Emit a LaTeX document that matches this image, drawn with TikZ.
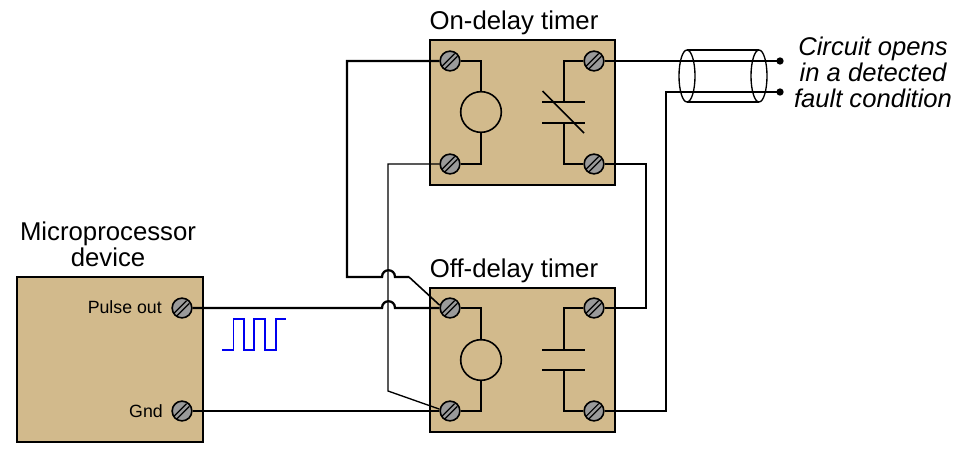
\documentclass[tikz,border=0pt]{standalone}
\usepackage{fontspec}
\setmainfont{Liberation Sans}
\definecolor{boxtan}{HTML}{D2BA8C}
\definecolor{termgray}{HTML}{9A9A9A}
\definecolor{pulseblue}{HTML}{0000F0}
\tikzset{
  x=0.75pt,y=-0.75pt,
  wire/.style={line width=1.7pt,line join=miter},
  thinwire/.style={line width=1pt,line join=miter},
  panel/.style={draw=black,line width=1.8pt,fill=boxtan},
  coil/.style={circle,draw=black,line width=1.2pt,minimum size=30.5pt,inner sep=0pt},
  term/.style={circle,draw=black,line width=1.2pt,fill=termgray,minimum size=14.8pt,inner sep=0pt,
    path picture={
      \draw[black,line width=0.9pt] ([shift={(-6.5pt,-4.5pt)}]path picture bounding box.center) -- ++(10pt,10pt);
      \draw[black,line width=0.9pt] ([shift={(-4.5pt,-6.5pt)}]path picture bounding box.center) -- ++(10pt,10pt);
    }},
  title/.style={font=\fontsize{19.3pt}{19.5pt}\selectfont,align=center,inner sep=0pt},
  ititle/.style={font=\fontsize{19.2pt}{19.3pt}\selectfont\itshape,align=center,inner sep=0pt},
  small/.style={font=\fontsize{13.3pt}{15pt}\selectfont,inner sep=0pt,anchor=east},
  dot/.style={circle,fill=black,minimum size=5.5pt,inner sep=0pt},
  sheath/.style={draw=black,line width=1pt},
}
\begin{document}
\begin{tikzpicture}
\useasboundingbox (0,0) rectangle (963,450);
% panels
\draw[panel] (430,40) rectangle (615,185);
\draw[panel] (430,288) rectangle (615,432);
\draw[panel] (17,277) rectangle (203,442);
% terminals
\node[term] (a1) at (450,61) {};
\node[term] (a2) at (594,61) {};
\node[term] (a3) at (450,164) {};
\node[term] (a4) at (594,164) {};
\node[term] (b1) at (450,308) {};
\node[term] (b2) at (594,308) {};
\node[term] (b3) at (450,411) {};
\node[term] (b4) at (594,411) {};
\node[term] (m1) at (182,308) {};
\node[term] (m2) at (182,411) {};
% coils
\node[coil] (ca) at (481,112) {};
\node[coil] (cb) at (481,360) {};
\draw[wire] (a1.east) -| (ca.north);
\draw[wire] (a3.east) -| (ca.south);
\draw[wire] (b1.east) -| (cb.north);
\draw[wire] (b3.east) -| (cb.south);
% contacts
\coordinate (ap1) at (564,102);
\coordinate (ap2) at (564,123);
\coordinate (bp1) at (564,350);
\coordinate (bp2) at (564,370);
\draw[wire] (a2.west) -| (ap1);
\draw[wire] (a4.west) -| (ap2);
\draw[wire] (b2.west) -| (bp1);
\draw[wire] (b4.west) -| (bp2);
\foreach \p in {ap1,ap2,bp1,bp2}{\draw[wire] ([xshift=-16.5pt]\p) -- ([xshift=16pt]\p);}
\coordinate (d1) at (542.5,91);
\coordinate (d2) at (584,133);
\draw[line width=1.2pt] (d1) -- (d2);
% external wiring
\coordinate (k1) at (347,61);
\coordinate (k2) at (347,277);
\coordinate (k3) at (409,277);
\draw[thinwire] (a3.west) -| (388,391) -- (b3.170);
\draw[wire] (a1.west) -- (k1) -- (k2) -- (382,277) .. controls (382,268) and (395,268) .. (395,277) -- (k3);
\draw[line width=1.2pt] (k3) -- (b1.165);
\draw[wire] (m1.east) -- (382,308) .. controls (382,299) and (395,299) .. (395,308) -- (b1.west);
\draw[wire] (m2.east) -- (b3.west);
\coordinate (r1) at (646,164);
\coordinate (r2) at (646,308);
\draw[wire] (a4.east) -- (r1) -- (r2) -- (b2.east);
\node[dot] (o1) at (780,61) {};
\node[dot] (o2) at (780,92) {};
\coordinate (r3) at (666,411);
\coordinate (r4) at (666,92);
\draw[wire] (b4.east) -- (r3) -- (r4) -- (o2.center);
\draw[wire] (a2.east) -- (o1.center);
% cable sheath
\draw[wire,line width=1.4pt] (687,50) -- (759,50);
\draw[wire,line width=1.4pt] (687,102) -- (759,102);
\draw[sheath] (687,76) ellipse [x radius=8,y radius=26];
\draw[sheath] (759,76) ellipse [x radius=8,y radius=26];
% pulse train
\draw[pulseblue,line width=1.4pt] (222,350) -- (233.5,350) -- (233.5,319) -- (244,319) -- (244,350) -- (254,350) -- (254,319) -- (265,319) -- (265,350) -- (276,350) -- (276,319) -- (286,319);
% labels
\node[title] (t1) at (514,23) {On-delay timer};
\node[title] (t2) at (514,270.5) {Off-delay timer};
\node[title] (t3) at (108,244.5) {Microprocessor\\device};
\node[ititle] (t4) at (873,72.5) {Circuit opens\\in a detected\\fault condition};
\node[small] (t5) at (162,307) {Pulse out};
\node[small] (t6) at (163,411) {Gnd};
\end{tikzpicture}
\end{document}
